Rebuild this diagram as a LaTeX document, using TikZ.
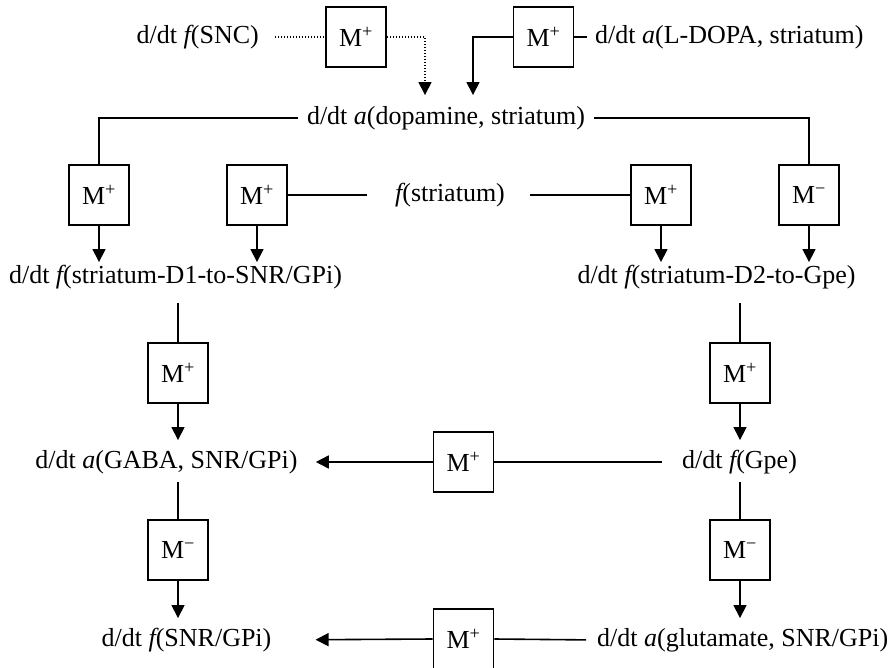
\documentclass[tikz,border=0pt]{standalone}
\usepackage{fontspec}
\setmainfont{Liberation Serif}
\usetikzlibrary{arrows.meta}
\newcommand{\vf}{{\itshape f}}
\newcommand{\va}{{\itshape a}}
\begin{document}
\begin{tikzpicture}[x=1pt,y=-1pt,
  every node/.style={font=\fontsize{26}{30}\selectfont},
  lbl/.style={inner sep=0pt, text height=18pt, text depth=5.5pt},
  mbox/.style={draw, line width=1.6pt, minimum width=60pt, minimum height=60pt, inner sep=0pt},
  conn/.style={line width=1.6pt},
  arr/.style={conn, -{Triangle[width=13pt,length=13pt]}},
  dots/.style={line width=1.6pt, dash pattern=on 1.4pt off 1.6pt}]
\useasboundingbox (0,0) rectangle (896,668);
% nodes
\node[lbl, anchor=east] (snc) at (259,37) {d/dt \vf(SNC)};
\node[mbox] (mt1) at (356,37) {M\textsuperscript{+}};
\node[mbox] (mt2) at (543.5,37) {M\textsuperscript{+}};
\node[lbl, anchor=west] (ldopa) at (595,37) {d/dt \va(L-DOPA, striatum)};
\node[lbl] (dop) at (446,118) {d/dt \va(dopamine, striatum)};
\node[mbox] (m1) at (99,195) {M\textsuperscript{+}};
\node[mbox] (m2) at (257,195) {M\textsuperscript{+}};
\node[lbl] (fstr) at (450,195) {\vf(striatum)};
\node[mbox] (m3) at (661,195) {M\textsuperscript{+}};
\node[mbox] (m4) at (809,195) {M\textsuperscript{−}};
\node[lbl] (d1) at (175.5,277) {d/dt \vf(striatum-D1-to-SNR/GPi)};
\node[lbl] (d2) at (716.5,277) {d/dt \vf(striatum-D2-to-Gpe)};
\node[mbox] (m5) at (178,373) {M\textsuperscript{+}};
\node[mbox] (m6) at (740,373) {M\textsuperscript{+}};
\node[lbl] (gaba) at (166.5,462) {d/dt \va(GABA, SNR/GPi)};
\node[mbox] (m7) at (463.5,462) {M\textsuperscript{+}};
\node[lbl] (gpe) at (739.5,462) {d/dt \vf(Gpe)};
\node[mbox] (m8) at (178,550) {M\textsuperscript{−}};
\node[mbox] (m9) at (740,550) {M\textsuperscript{−}};
\node[lbl] (snr) at (186.5,640) {d/dt \vf(SNR/GPi)};
\node[mbox] (m10) at (463.5,639) {M\textsuperscript{+}};
\node[lbl, anchor=west] (glu) at (597,640) {d/dt \va(glutamate, SNR/GPi)};
% connectors
\draw[dots, shorten <=16pt] (snc.east) -- (mt1.west);
\draw[dots, -{Triangle[width=13pt,length=13pt]}, shorten >=11pt] (mt1.east) -| ([xshift=-21pt]dop.north);
\draw[arr, shorten >=11pt] (mt2.west) -| ([xshift=27pt]dop.north);
\draw[conn, shorten <=8pt] (ldopa.west) -- (mt2.east);
\draw[conn, shorten <=9pt] (dop.west) -| (m1.north);
\draw[conn, shorten <=9pt] (dop.east) -| (m4.north);
\draw[conn, shorten >=28pt] (m2.east) -- (fstr.west);
\draw[conn, shorten <=25pt] (fstr.east) -- (m3.west);
\draw[arr, shorten >=3pt] (m1.south) -- (m1.south |- d1.north);
\draw[arr, shorten >=3pt] (m2.south) -- (m2.south |- d1.north);
\draw[arr, shorten >=3pt] (m3.south) -- (m3.south |- d2.north);
\draw[arr, shorten >=3pt] (m4.south) -- (m4.south |- d2.north);
\draw[conn, shorten >=14pt] (m5.north) -- (m5.north |- d1.south);
\draw[arr, shorten >=10pt] (m5.south) -- (m5.south |- gaba.north);
\draw[conn, shorten >=14pt] (m6.north) -- (m6.north |- d2.south);
\draw[arr, shorten >=10pt] (m6.south) -- (m6.south |- gpe.north);
\draw[arr, shorten >=18pt] (m7.west) -- (gaba.east);
\draw[conn, shorten >=20pt] (m7.east) -- (gpe.west);
\draw[conn, shorten >=8pt] (m8.north) -- (m8.north |- gaba.south);
\draw[arr, shorten >=10pt] (m8.south) -- (m8.south |- snr.north);
\draw[conn, shorten >=8pt] (m9.north) -- (m9.north |- gpe.south);
\draw[arr, shorten >=10pt] (m9.south) -- (m9.south |- glu.north);
\draw[arr, shorten >=44pt] (m10.west) -- (snr.east);
\draw[conn, shorten <=11pt] (glu.west) -- (m10.east);
\end{tikzpicture}
\end{document}
